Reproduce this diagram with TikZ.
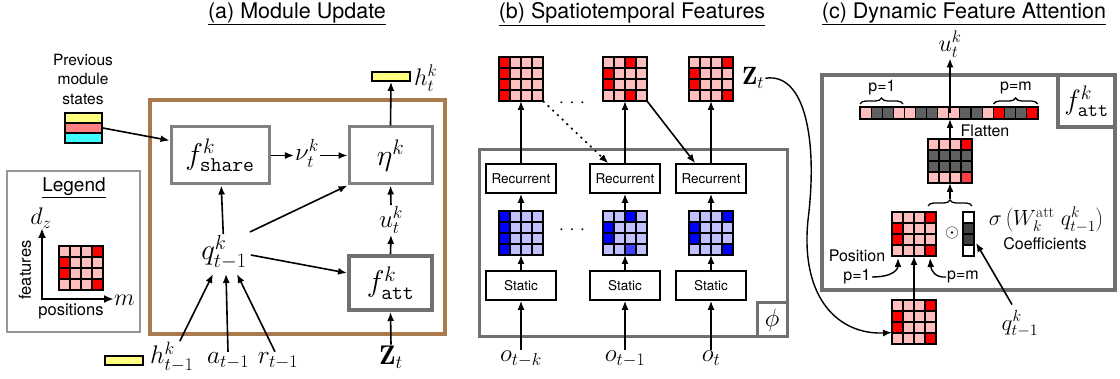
\RequirePackage{fix-cm}
\documentclass[tikz,border=0pt]{standalone}
\usepackage{fontspec}
\newfontfamily\hv{TeX Gyre Heros}
\usetikzlibrary{arrows.meta,calc,decorations.pathreplacing}

% cell colours
\definecolor{pk}{RGB}{255,190,190}
\definecolor{rd}{RGB}{255,0,0}
\definecolor{rl}{RGB}{255,64,64}
\definecolor{lb}{RGB}{192,192,255}
\definecolor{bl}{RGB}{0,0,255}
\definecolor{mb}{RGB}{64,64,255}
\definecolor{gy}{RGB}{96,96,96}
\definecolor{dk}{RGB}{64,64,64}
% frame and state colours
\definecolor{modbrown}{RGB}{168,122,76}
\definecolor{boxgray}{RGB}{128,128,128}
\definecolor{boxdark}{RGB}{112,112,112}
\definecolor{legendgray}{RGB}{150,150,150}
\definecolor{stateyellow}{RGB}{255,255,128}
\definecolor{statesalmon}{RGB}{255,128,128}
\definecolor{statecyan}{RGB}{64,255,255}

\tikzset{
  lbl/.style={font=\hv\fontsize{16}{19}\selectfont, inner sep=1pt},
  ttl/.style={font=\hv\fontsize{21.5}{24}\selectfont, inner sep=1pt},
  mth/.style={inner sep=1pt, font=\fontsize{24}{26}\selectfont},
  fnbox/.style={draw=boxgray, line width=3pt, minimum width=98pt, minimum height=57pt, inner sep=0pt, font=\fontsize{30}{30}\selectfont},
  stagebox/.style={draw, line width=1.6pt, minimum width=70pt, minimum height=29pt, inner sep=0pt, font=\hv\fontsize{13.5}{14}\selectfont},
  arr/.style={-{Latex[length=9pt,width=7pt]}, line width=1.6pt},
  cellline/.style={draw=black, line width=1.1pt},
  cellframe/.style={draw=black, line width=1.8pt, inner sep=0pt, outer sep=0pt},
  statebar/.style={draw=black, fill=#1, line width=1.8pt, minimum width=37pt, minimum height=10pt, inner sep=0pt},
  brc/.style={decorate, decoration={brace, amplitude=6pt}, line width=1.3pt},
}

% #1 name, #2 top-left corner, #3 columns, #4 rows, #5 cell width, #6 cell height, #7 colours row by row
\newcommand\cellblock[7]{%
  \foreach \cc [count=\n from 0] in {#7}{%
    \pgfmathtruncatemacro\cx{mod(\n,#3)}%
    \pgfmathtruncatemacro\cy{div(\n,#3)}%
    \filldraw[fill=\cc, cellline] #2 ++(\cx*#5,\cy*#6) rectangle ++(#5,#6);
  }%
  \node[cellframe, minimum width=#3*#5, minimum height=#4*#6, anchor=north west] (#1) at #2 {};%
}

\begin{document}
\begin{tikzpicture}[x=1pt,y=-1pt]
\useasboundingbox[fill=white] (0,0) rectangle (1120,379);

% ---------------- (a) module update ----------------
\node[ttl] (ttlA) at (297,14) {\underline{(a) Module Update}};
\node[draw=modbrown, line width=3.5pt, minimum width=295pt, minimum height=234pt, inner sep=0pt] (modA) at (297.5,217) {};
\node[fnbox] (fshare) at (220,155.5) {$f^k_{\mathtt{share}}$};
\node[fnbox, minimum width=83pt] (eta) at (390.5,155.5) {$\eta^k$};
\node[fnbox, draw=boxdark, line width=4pt, minimum width=83pt, minimum height=54pt] (fatt) at (390.5,283) {$f^k_{\mathtt{att}}$};
\node[mth, anchor=base, font=\fontsize{25}{26}\selectfont] (nu) at (307,161) {$\nu^k_t$};
\draw[arr] (fshare.east) -- (fshare.east -| nu.west);
\draw[arr] (nu.east |- eta.west) -- (eta.west);

\node[statebar=stateyellow, minimum width=38pt, minimum height=9pt] (hbar) at (391,76.5) {};
\node[mth, anchor=west] (ht) at (413,78) {$h^k_t$};
\draw[arr] (eta.north) -- (hbar.south);

\node[mth, font=\fontsize{25}{26}\selectfont] (ua) at (391,220) {$u^k_t$};
\draw[arr] (fatt.north) -- (ua.south);
\draw[arr] (ua.north) -- (eta.south);
\node[mth, font=\fontsize{27}{28}\selectfont] (Za) at (391,357) {$\mathbf{Z}_t$};
\draw[arr] (Za.north) -- (fatt.south);

\node[mth, font=\fontsize{29}{30}\selectfont] (q) at (224,252) {$q^k_{t-1}$};
\draw[arr] (q) -- (fshare);
\draw[arr] ($(q.east)+(2,-20)$) -- (eta.south west);
\draw[arr] ($(q.east)+(3,3)$) -- ($(fatt.west)+(0,-10)$);

\node[statebar=stateyellow, minimum width=38pt, minimum height=9pt] (hprevbar) at (124,360.5) {};
\node[mth, anchor=base west, font=\fontsize{25.5}{26}\selectfont] (hprev) at (149,364) {$h^k_{t-1}$};
\node[mth, anchor=base, font=\fontsize{25.5}{26}\selectfont] (aprev) at (228,364) {$a_{t-1}$};
\node[mth, anchor=base, font=\fontsize{25.5}{26}\selectfont] (rprev) at (278,364) {$r_{t-1}$};
\draw[arr] ($(hprev.north)+(8,0)$) -- ($(q.south)+(-11,4)$);
\draw[arr] (aprev.north) -- ($(q.south)+(2,4)$);
\draw[arr] ($(rprev.north)+(-3,0)$) -- ($(q.south)+(13,4)$);

\node[lbl, align=center, font=\hv\fontsize{15.5}{19.5}\selectfont] (prevtxt) at (83,79) {Previous\\module\\states};
\node[statebar=stateyellow] (sA) at (83.5,118) {};
\node[statebar=statesalmon] (sB) at (83.5,128) {};
\node[statebar=statecyan] (sC) at (83.5,138) {};
\draw[arr] (sB.east) -- ($(fshare.north west)!0.25!(fshare.south west)$);

% legend
\node[draw=legendgray, line width=1.2pt, minimum width=133pt, minimum height=161pt, inner sep=0pt] (legend) at (73.5,251.5) {};
\node[lbl, font=\hv\fontsize{19}{22}\selectfont] (legtitle) at (74,188) {\underline{Legend}};
\coordinate (ax0) at (42,299);
\coordinate (axY) at (42,228);
\coordinate (axX) at (114,299);
\draw[{Latex[length=10pt,width=8pt]}-{Latex[length=10pt,width=8pt]}, line width=2.4pt] (axY) -- (ax0) -- (axX);
\node[mth] (dz) at (41,218) {$d_z$};
\node[mth, anchor=west] (mlbl) at (113,300) {$m$};
\node[lbl, rotate=90, font=\hv\fontsize{16.5}{19}\selectfont] (featlbl) at (25,270) {features};
\node[lbl, font=\hv\fontsize{16.5}{19}\selectfont] (poslbl) at (71,311) {positions};
\cellblock{leggrid}{(59,246)}{4}{4}{11}{11}{pk,pk,pk,rd,rd,pk,pk,pk,rd,pk,pk,pk,pk,pk,pk,rd}

% ---------------- (b) spatiotemporal features ----------------
\node[ttl] (ttlB) at (632,14) {\underline{(b) Spatiotemporal Features}};
\node[draw=boxdark, line width=3pt, minimum width=308pt, minimum height=187pt, inner sep=0pt] (phibox) at (633,243.5) {};
\node[draw=boxdark, line width=3pt, minimum width=30pt, minimum height=34pt, inner sep=0pt, font=\fontsize{25}{25}\selectfont] (philbl) at (772,320) {$\phi$};

\cellblock{zA}{(499,57)}{4}{4}{11}{11}{rd,pk,pk,pk,rd,pk,pk,pk,rd,pk,pk,pk,rd,pk,pk,pk}
\cellblock{zB}{(603,57)}{4}{4}{11}{11}{pk,pk,rd,pk,rd,pk,pk,pk,rd,pk,pk,pk,pk,pk,rd,pk}
\cellblock{zC}{(689,57)}{4}{4}{11}{11}{pk,pk,pk,rd,rd,pk,pk,pk,rd,pk,pk,pk,pk,pk,pk,rd}
\cellblock{eA}{(499,211)}{4}{4}{11}{11}{bl,lb,lb,lb,bl,lb,lb,lb,bl,lb,lb,lb,bl,lb,lb,lb}
\cellblock{eB}{(603,211)}{4}{4}{11}{11}{lb,lb,bl,lb,bl,lb,lb,lb,bl,lb,lb,lb,lb,lb,mb,lb}
\cellblock{eC}{(689,211)}{4}{4}{11}{11}{lb,lb,lb,bl,bl,lb,lb,lb,bl,lb,lb,lb,lb,lb,lb,bl}

\node[stagebox] (recA) at (521,178.5) {Recurrent};
\node[stagebox] (recB) at (625,178.5) {Recurrent};
\node[stagebox] (recC) at (711,178.5) {Recurrent};
\node[stagebox] (statA) at (521,285.5) {Static};
\node[stagebox] (statB) at (625,285.5) {Static};
\node[stagebox] (statC) at (711,285.5) {Static};
\node[mth, anchor=base, font=\fontsize{25}{26}\selectfont] (oA) at (521,362) {$o_{t-k}$};
\node[mth, anchor=base, font=\fontsize{25}{26}\selectfont] (oB) at (625,362) {$o_{t-1}$};
\node[mth, anchor=base, font=\fontsize{25}{26}\selectfont] (oC) at (711,362) {$o_t$};
\foreach \p in {A,B,C}{
  \draw[arr] (o\p.north) -- (stat\p.south);
  \draw[arr] (stat\p.north) -- (e\p.south);
  \draw[arr] (e\p.north) -- (rec\p.south);
  \draw[arr] (rec\p.north) -- (z\p.south);
}
\draw[arr, dash pattern=on 2pt off 4.5pt] (zA.south east) -- ($(recB.north west)+(19,0)$);
\draw[arr] (zB.south east) -- ($(recC.north west)+(20,0)$);
\node[lbl, font=\hv\fontsize{19}{19}\selectfont] (dtop) at (572,105) {· · ·};
\node[lbl, font=\hv\fontsize{19}{19}\selectfont] (dmid) at (572,232) {· · ·};
\node[mth, anchor=base west, font=\fontsize{25}{26}\selectfont] (Zb) at (741,85) {$\mathbf{Z}_t$};

% ---------------- (c) dynamic feature attention ----------------
\node[ttl] (ttlC) at (964,14) {\underline{(c) Dynamic Feature Attention}};
\node[draw=boxdark, line width=4pt, minimum width=293pt, minimum height=215pt, inner sep=0pt] (attbox) at (968.5,182.5) {};
\node[draw=boxdark, line width=4pt, minimum width=57pt, minimum height=52pt, inner sep=0pt, font=\fontsize{28}{28}\selectfont] (fattlbl) at (1086.5,101) {$f^k_{\mathtt{att}}$};
\node[mth] (uc) at (950,44) {$u^k_t$};
\cellblock{flat}{(860,107)}{16}{1}{11.1}{12}{pk,gy,gy,pk,pk,gy,gy,pk,pk,gy,gy,pk,rd,gy,gy,rd}
\cellblock{attg}{(928,139)}{4}{4}{11}{11}{pk,pk,pk,rd,gy,gy,gy,gy,gy,gy,gy,gy,pk,pk,pk,rl}
\draw[arr] (attg.north |- flat.center) -- (uc.south);
\draw[arr] (attg.north) -- (attg.north |- flat.south);
\draw[brc] ($(flat.north west)+(0,-3)$) -- ($(flat.north west)+(43,-3)$);
\draw[brc] ($(flat.north east)+(-44,-3)$) -- ($(flat.north east)+(0,-3)$);
\node[lbl] (p1top) at (882,88) {p=1};
\node[lbl] (pmtop) at (1016,88) {p=m};
\node[lbl] (flatlbl) at (985,131) {Flatten};

\draw[brc] ($(attg.south west)+(0,23)$) -- ($(attg.south east)+(0,23)$);
\coordinate (btip) at ($(attg.south)+(0,16)$);
\draw[arr] (btip) -- (attg.south);

\cellblock{posg}{(892,212)}{4}{4}{11}{11}{pk,pk,pk,rd,rd,pk,pk,pk,rd,pk,pk,pk,pk,pk,pk,rd}
\cellblock{coef}{(963,212)}{1}{4}{11}{11}{white,dk,dk,white}
\node[mth, font=\fontsize{18}{18}\selectfont] (odot) at (952,233) {$\odot$};
\node[mth, font=\fontsize{22}{22}\selectfont] (sig) at (1046,220) {$\sigma\left(W^{\mathrm{att}}_k\;q^k_{t-1}\right)$};
\node[lbl] (coeflbl) at (1045,244) {Coefficients};
\node[lbl] (posname) at (857,256) {Position};
\node[lbl] (p1) at (857,277) {p=1};
\node[lbl] (pm) at (963,277) {p=m};
\draw[arr, line width=1.4pt] (p1.east) .. controls (895,277) and (898,268) .. ($(posg.south west)+(6,2)$);
\draw[arr, line width=1.4pt] (pm.west) .. controls (935,278) and (931,270) .. ($(posg.south east)+(-6,2)$);

\cellblock{gbot}{(892,300)}{4}{4}{11}{11}{pk,pk,pk,rd,rd,pk,pk,pk,rd,pk,pk,pk,pk,pk,pk,rd}
\draw[arr] (gbot.north) -- (posg.south);
\node[mth, font=\fontsize{23}{23}\selectfont] (qc) at (1020,324) {$q^k_{t-1}$};
\coordinate (coefin) at ($(coef.north east)!0.7!(coef.south east)+(2,0)$);
\draw[arr] ($(qc.north)+(-8,-5)$) -- (coefin);

% Z_t fed into the attention module
\coordinate (gbotin) at ($(gbot.north west)!0.74!(gbot.south west)$);
\draw[arr, line width=1.4pt] (Zb.east) .. controls (805,72) and (818,140) .. (808,220) .. controls (800,300) and (840,335) .. (gbotin);
\end{tikzpicture}
\end{document}
